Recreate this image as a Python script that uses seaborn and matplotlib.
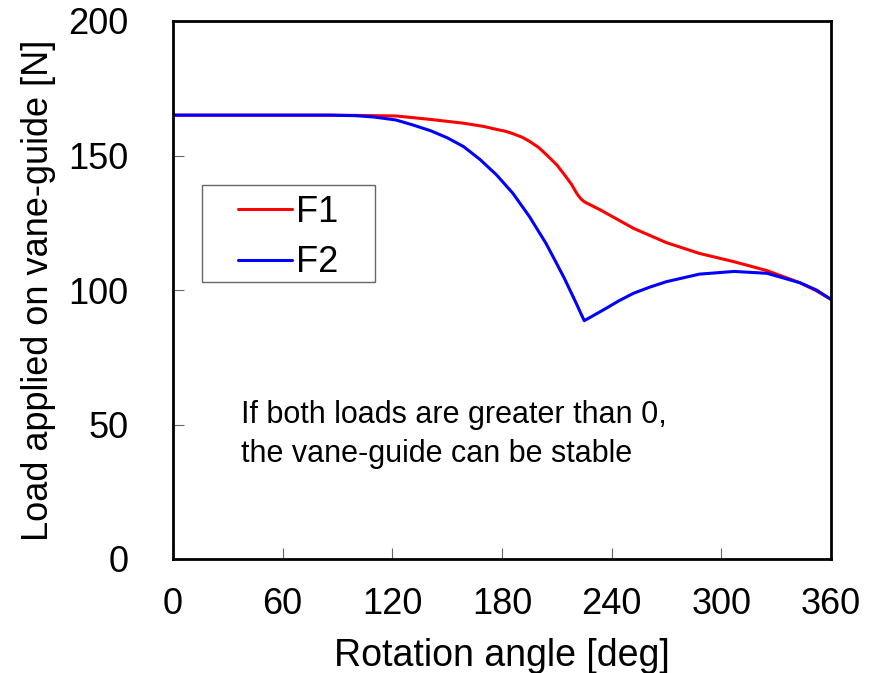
import matplotlib
matplotlib.use("Agg")
import matplotlib.pyplot as plt
from matplotlib.patches import Rectangle
import seaborn as sns
import pandas as pd

angle_f1 = [0, 60, 86, 100, 122, 141, 159, 170, 177, 182, 186, 191, 195, 200, 204, 210, 214, 218, 221, 223, 225,
            234, 252, 270, 288, 307, 325, 343, 352, 360]
load_f1 = [165, 165, 165, 164.9, 164.7, 163.4, 162.0, 160.8, 159.7, 159.0, 158.1, 156.8, 155.3, 153.0, 150.5, 146.5, 143.0, 139.3, 135.8, 134.0, 132.8,
           129.7, 122.9, 117.6, 113.6, 110.5, 107.2, 102.7, 99.7, 96.5]
angle_f2 = [0, 60, 86, 100, 110, 122, 131, 141, 150, 159, 168, 177, 186, 195, 204, 209, 214, 218, 221, 223, 225,
            230, 237, 244, 252, 261, 270, 288, 307, 325, 343, 352, 360]
load_f2 = [165, 165, 165, 164.8, 164.3, 163.2, 161.4, 159.2, 156.6, 153.3, 148.5, 142.8, 135.9, 127.3, 117.4, 111.0, 104.5, 98.8, 94.5, 91.5, 88.6,
           90.5, 93.2, 96.0, 98.8, 101.1, 103.1, 105.9, 106.9, 106.2, 102.7, 100.0, 96.5]

df = pd.concat([
    pd.DataFrame({"angle": angle_f1, "load": load_f1, "series": "F1"}),
    pd.DataFrame({"angle": angle_f2, "load": load_f2, "series": "F2"}),
])

sns.set_style("white")
plt.rcParams['font.family'] = ['Liberation Sans', 'DejaVu Sans']
plt.rcParams['text.color'] = 'black'
plt.rcParams['axes.labelcolor'] = 'black'
plt.rcParams['xtick.color'] = 'black'
plt.rcParams['ytick.color'] = 'black'

fig = plt.figure(figsize=(8.74, 6.73), dpi=100)
ax = fig.add_axes([173/874, 1-559/673, (831-173)/874, (559-21)/673])
sns.lineplot(data=df, x="angle", y="load", hue="series", palette={"F1": "#ff0000", "F2": "#0000ff"},
             linewidth=2.2, ax=ax, sort=False, estimator=None)
ax.set_xlim(0, 360)
ax.set_ylim(0, 200)
ax.set_xticks([0, 60, 120, 180, 240, 300, 360])
ax.set_yticks([0, 50, 100, 150, 200])
ax.tick_params(bottom=True, left=True, direction='in', length=8, width=0.8,
               color='#666666', labelcolor='black', labelsize=26)
ax.tick_params(axis='x', pad=20)
ax.tick_params(axis='y', pad=32)
for s in ax.spines.values():
    s.set_color('black')
    s.set_linewidth(2)
ax.set_xlabel("Rotation angle [deg]", fontsize=27, labelpad=12)
ax.set_ylabel("Load applied on vane-guide [N]", fontsize=26, labelpad=9)

ax.add_patch(Rectangle(((202-173)/658, (559-282)/538), (375-202)/658, (282-185)/538,
                       transform=ax.transAxes, fill=False, edgecolor='#666666', linewidth=1, zorder=5))
leg = ax.legend(loc='upper left', bbox_to_anchor=((238-173)/658, (559-195)/538), fontsize=26,
                frameon=False, handlelength=1.5, handletextpad=0.1,
                borderpad=0, labelspacing=0.42, borderaxespad=0)
ax.text(37.3, 50.6, "If both loads are greater than 0,", fontsize=22, va='baseline', ha='left')
ax.text(37.3, 36.1, "the vane-guide can be stable", fontsize=22, va='baseline', ha='left')
fig.savefig("out.png", dpi=100)
